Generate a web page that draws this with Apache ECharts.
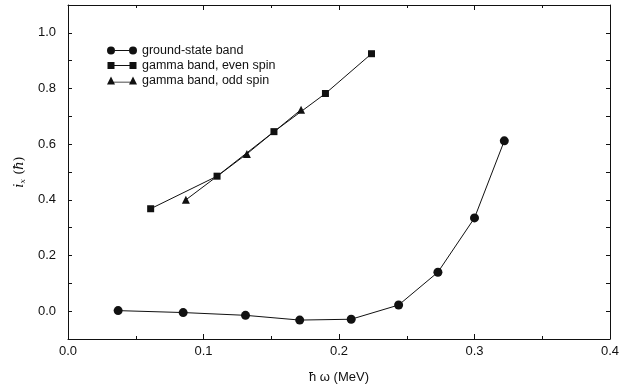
<!DOCTYPE html>
<html>
<head>
<meta charset="utf-8">
<script src="https://cdn.jsdelivr.net/npm/echarts@6/dist/echarts.min.js"></script>
<style>
  html, body { margin: 0; padding: 0; background: #fff; }
  #chart { width: 642px; height: 389px; }
</style>
</head>
<body>
<div id="chart"></div>
<script>
// values
const groundX = [0.037, 0.085, 0.131, 0.171, 0.209, 0.244, 0.273, 0.300, 0.322]
const groundY = [0.002, -0.005, -0.015, -0.032, -0.029, 0.022, 0.140, 0.335, 0.612]
const evenX = [0.061, 0.110, 0.152, 0.190, 0.224]
const evenY = [0.368, 0.485, 0.645, 0.782, 0.925]
const oddX = [0.087, 0.132, 0.172]
const oddY = [0.400, 0.565, 0.724]
const seriesNames = ['ground-state band', 'gamma band, even spin', 'gamma band, odd spin']

const zip = (xs, ys) => xs.map((x, i) => [x, ys[i]])

// legend icons: marker - line - marker
const iconCircle = 'path://M0,4A4,4 0 1,0 8,4A4,4 0 1,0 0,4Z M22,4A4,4 0 1,0 30,4A4,4 0 1,0 22,4Z M8,3.6L22,3.6L22,4.4L8,4.4Z'
const iconSquare = 'path://M0.5,0.5L7.5,0.5L7.5,7.5L0.5,7.5Z M22.5,0.5L29.5,0.5L29.5,7.5L22.5,7.5Z M7.5,3.6L22.5,3.6L22.5,4.4L7.5,4.4Z M0,0L0,0.1L0.1,0.1Z M30,8L30,7.9L29.9,7.9Z'
const iconTri = 'path://M0,8L4,0L8,8Z M22,8L26,0L30,8Z M6,5.2L24,5.2L24,6L6,6Z'

const ink = '#111'
const font = 'Liberation Sans, Arial, sans-serif'

const chart = echarts.init(document.getElementById('chart'))

const axisLine = { show: true, onZero: false, lineStyle: { color: ink, width: 1 } }
const tickStyle = { lineStyle: { color: ink, width: 1 } }

chart.setOption({
  animation: false,
  backgroundColor: '#fff',
  textStyle: { fontFamily: font, color: ink },
  grid: { left: 68, right: 32, top: 5, bottom: 44 },
  legend: {
    orient: 'vertical',
    left: 102,
    top: 39,
    itemWidth: 30,
    itemHeight: 8,
    itemGap: 2,
    textStyle: { fontSize: 12.5, color: ink, fontFamily: font },
    data: [
      { name: seriesNames[0], icon: iconCircle },
      { name: seriesNames[1], icon: iconSquare },
      { name: seriesNames[2], icon: iconTri }
    ]
  },
  xAxis: [
    {
      type: 'value',
      min: 0,
      max: 0.4,
      interval: 0.1,
      name: 'ħ ω (MeV)',
      nameLocation: 'middle',
      nameGap: 32,
      nameTextStyle: { fontSize: 13, color: ink, fontFamily: font },
      axisLine,
      axisTick: { inside: true, length: 5, ...tickStyle },
      minorTick: { show: true, splitNumber: 2, length: 3, lineStyle: { color: ink } },
      axisLabel: { fontSize: 13, color: ink, margin: 6, formatter: v => v.toFixed(1) },
      splitLine: { show: false }
    },
    {
      type: 'value',
      position: 'top',
      min: 0,
      max: 0.4,
      interval: 0.1,
      axisLine,
      axisTick: { inside: true, length: 5, ...tickStyle },
      minorTick: { show: true, splitNumber: 2, length: 3, lineStyle: { color: ink } },
      axisLabel: { show: false },
      splitLine: { show: false }
    }
  ],
  yAxis: [
    {
      type: 'value',
      min: -0.1,
      max: 1.1,
      interval: 0.1,
      name: '{i|i}{s|x}{n| (}{i|ħ}{n|)}',
      nameLocation: 'middle',
      nameGap: 38,
      nameTextStyle: {
        rich: {
          i: { fontSize: 13, fontStyle: 'italic', fontFamily: 'DejaVu Serif, serif', color: ink },
          s: { fontSize: 8, fontStyle: 'italic', fontFamily: 'DejaVu Serif, serif', color: ink, padding: [6, 0, 0, 0] },
          n: { fontSize: 13, fontFamily: 'DejaVu Serif, serif', color: ink }
        }
      },
      axisLine,
      axisTick: { inside: true, length: 4, ...tickStyle },
      axisLabel: {
        fontSize: 13,
        color: ink,
        margin: 12,
        formatter: v => {
          const k = Math.round(v * 10)
          return (k % 2 === 0 && k >= 0 && k <= 10) ? (k / 10).toFixed(1) : ''
        }
      },
      splitLine: { show: false }
    },
    {
      type: 'value',
      position: 'right',
      min: -0.1,
      max: 1.1,
      interval: 0.1,
      axisLine,
      axisTick: { inside: true, length: 4, ...tickStyle },
      axisLabel: { show: false },
      splitLine: { show: false }
    }
  ],
  series: [
    {
      name: seriesNames[0],
      type: 'line',
      data: zip(groundX, groundY),
      symbol: 'circle',
      symbolSize: 9,
      itemStyle: { color: ink },
      lineStyle: { color: ink, width: 1 }
    },
    {
      name: seriesNames[1],
      type: 'line',
      data: zip(evenX, evenY),
      symbol: 'rect',
      symbolSize: 7,
      itemStyle: { color: ink },
      lineStyle: { color: ink, width: 1 }
    },
    {
      name: seriesNames[2],
      type: 'line',
      data: zip(oddX, oddY),
      symbol: 'triangle',
      symbolSize: 8,
      itemStyle: { color: ink },
      lineStyle: { color: ink, width: 1 }
    }
  ]
})
</script>
</body>
</html>
